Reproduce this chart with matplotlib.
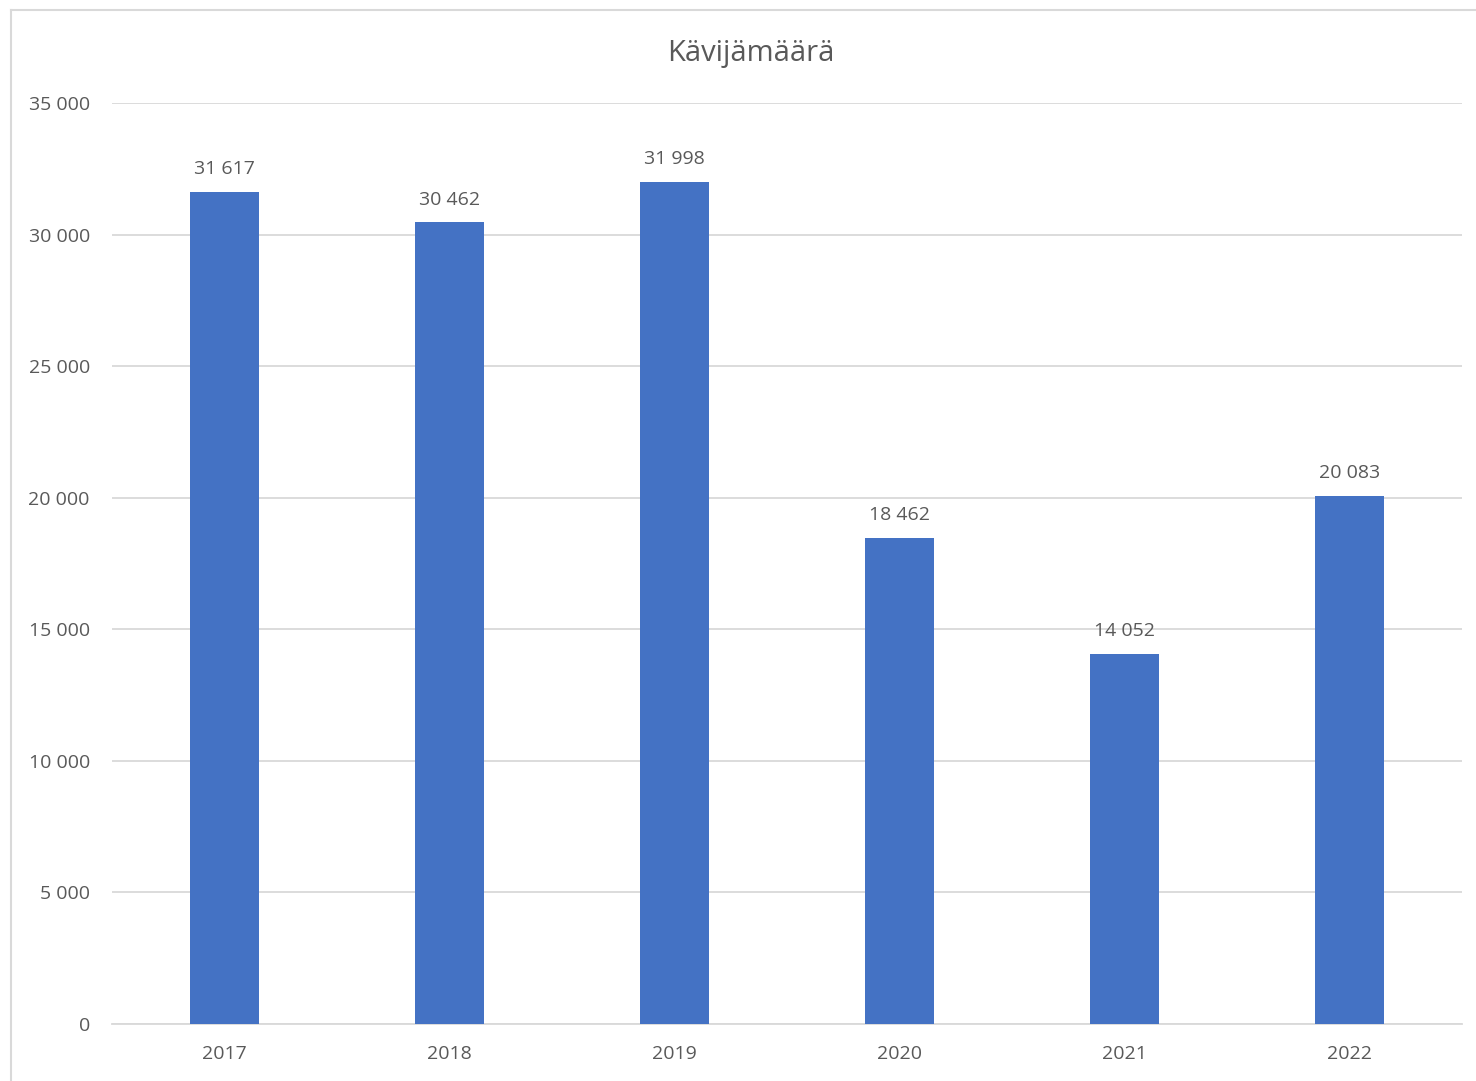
import matplotlib
matplotlib.use("Agg")
import matplotlib.pyplot as plt
from matplotlib.lines import Line2D

years = ["2017", "2018", "2019", "2020", "2021", "2022"]
visitors = [31617, 30462, 31998, 18462, 14052, 20083]
yticks = [0, 5000, 10000, 15000, 20000, 25000, 30000, 35000]

bar_color = "#4472C4"
text_color = "#595959"
grid_color = "#D9D9D9"


def fmt(v):
    return "{:,}".format(v).replace(",", " ")


plt.rcParams["font.family"] = ["Open Sans", "DejaVu Sans"]

fig = plt.figure(figsize=(14.76, 10.81), dpi=100)
ax = fig.add_axes([112 / 1476, 57 / 1081, 1350 / 1476, 921 / 1081])

x = range(len(years))
bars = ax.bar(x, visitors, width=0.307, color=bar_color, zorder=3)

ax.set_xlim(-0.5, len(years) - 0.5)
ax.set_ylim(0, 35000)
ax.set_yticks(yticks)
ax.set_yticklabels([fmt(t) for t in yticks])
ax.set_xticks(list(x))
ax.set_xticklabels(years)
ax.yaxis.grid(True, color=grid_color, linewidth=1.3, zorder=0)
ax.tick_params(axis="both", length=0, labelsize=14, colors=text_color)
ax.tick_params(axis="y", pad=16)
ax.tick_params(axis="x", pad=15)
for side in ["top", "right", "left"]:
    ax.spines[side].set_visible(False)
ax.spines["bottom"].set_color(grid_color)
ax.spines["bottom"].set_linewidth(1.3)

for b, v in zip(bars, visitors):
    ax.annotate(fmt(v), (b.get_x() + b.get_width() / 2, v),
                xytext=(0, 10), textcoords="offset points",
                ha="center", va="bottom", fontsize=14, color=text_color)

fig.text(751 / 1476, 1 - 53 / 1081, "Kävijämäärä", ha="center", va="center",
         fontsize=21, color=text_color)

# Chart frame (top and left edges are visible in the original)
fig.add_artist(Line2D([11 / 1476, 1.0], [1 - 10 / 1081, 1 - 10 / 1081],
                      transform=fig.transFigure, color=grid_color, linewidth=1.5))
fig.add_artist(Line2D([11 / 1476, 11 / 1476], [0, 1 - 10 / 1081],
                      transform=fig.transFigure, color=grid_color, linewidth=1.5))

fig.savefig("out.png", dpi=100)
